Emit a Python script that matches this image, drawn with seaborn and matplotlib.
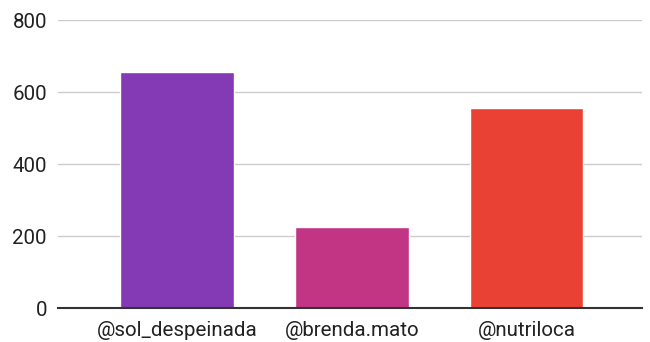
import matplotlib
matplotlib.use("Agg")
import matplotlib.pyplot as plt
import seaborn as sns
import pandas as pd

categories = ["@sol_despeinada", "@brenda.mato", "@nutriloca"]
values = [655, 225, 555]
colors = ["#833AB4", "#C13584", "#E94235"]
yticks = [0, 200, 400, 600, 800]

sns.set_theme(style="white")
plt.rcParams['font.family'] = ['Roboto', 'DejaVu Sans']

df = pd.DataFrame({"account": categories, "count": values})

fig = plt.figure(figsize=(6.5, 3.42), dpi=100)
ax = fig.add_axes([58/650, 34/342, 584/650, 288/342])

sns.barplot(data=df, x="account", y="count", hue="account", palette=colors,
            width=0.65, legend=False, ax=ax, saturation=1)

ax.set_ylim(0, 800)
ax.set_xlim(-0.68, 2.66)
ax.set_yticks(yticks)
ax.set_yticklabels([str(t) for t in yticks])
ax.yaxis.grid(True, color="#cccccc", linewidth=1)
ax.set_axisbelow(True)
for s in ["top", "right", "left"]:
    ax.spines[s].set_visible(False)
ax.spines["bottom"].set_color("#333333")
ax.spines["bottom"].set_linewidth(1.5)
ax.set_xlabel("")
ax.set_ylabel("")
ax.tick_params(axis="both", length=0, labelsize=14.8, colors="#222222")
ax.tick_params(axis="y", pad=8)
ax.tick_params(axis="x", pad=9)

fig.savefig("out.png", dpi=100)
